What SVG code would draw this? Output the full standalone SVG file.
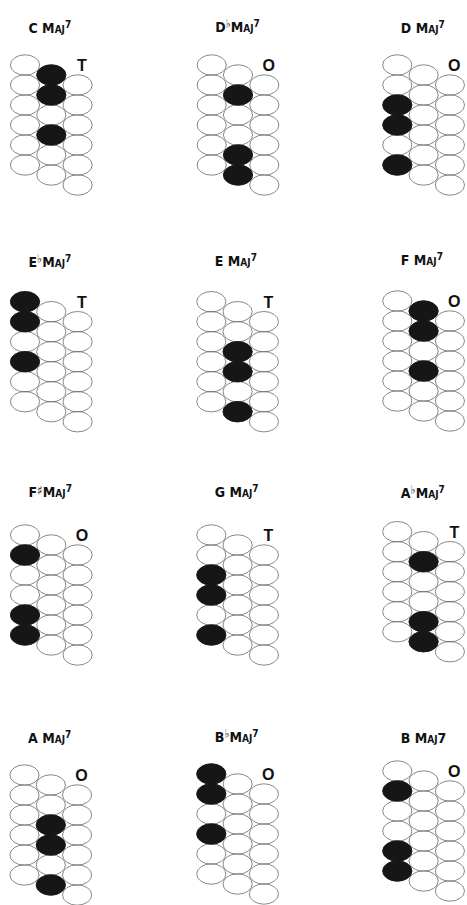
<svg xmlns="http://www.w3.org/2000/svg" xmlns:xlink="http://www.w3.org/1999/xlink" width="467" height="905" viewBox="0 0 467 905">
<style>
.e{fill:none;stroke:#6a6a6a;stroke-width:0.8}
.on{fill:#161616;stroke:#161616;stroke-width:0.8}
.ttl{font-family:"DejaVu Sans Condensed","DejaVu Sans",sans-serif;font-weight:bold;font-size:14px;font-variant:small-caps;fill:#111}
.sup{font-size:10px}
.acc{font-size:12px}
.lbl{font-family:"Liberation Sans",Arial,sans-serif;font-weight:bold;font-size:16px;fill:#111;text-anchor:middle}
</style>
<defs>
<g id="grid">
<ellipse class="e" cx="0" cy="0" rx="14.6" ry="10.2"/>
<ellipse class="e" cx="0" cy="20" rx="14.6" ry="10.2"/>
<ellipse class="e" cx="0" cy="40" rx="14.6" ry="10.2"/>
<ellipse class="e" cx="0" cy="60" rx="14.6" ry="10.2"/>
<ellipse class="e" cx="0" cy="80" rx="14.6" ry="10.2"/>
<ellipse class="e" cx="0" cy="100" rx="14.6" ry="10.2"/>
<ellipse class="e" cx="26.3" cy="10" rx="14.6" ry="10.2"/>
<ellipse class="e" cx="26.3" cy="30" rx="14.6" ry="10.2"/>
<ellipse class="e" cx="26.3" cy="50" rx="14.6" ry="10.2"/>
<ellipse class="e" cx="26.3" cy="70" rx="14.6" ry="10.2"/>
<ellipse class="e" cx="26.3" cy="90" rx="14.6" ry="10.2"/>
<ellipse class="e" cx="26.3" cy="110" rx="14.6" ry="10.2"/>
<ellipse class="e" cx="52.6" cy="20" rx="14.6" ry="10.2"/>
<ellipse class="e" cx="52.6" cy="40" rx="14.6" ry="10.2"/>
<ellipse class="e" cx="52.6" cy="60" rx="14.6" ry="10.2"/>
<ellipse class="e" cx="52.6" cy="80" rx="14.6" ry="10.2"/>
<ellipse class="e" cx="52.6" cy="100" rx="14.6" ry="10.2"/>
<ellipse class="e" cx="52.6" cy="120" rx="14.6" ry="10.2"/>
</g>
<ellipse id="dot" class="on" cx="0" cy="0" rx="14.6" ry="10.2"/>
</defs>
<rect width="467" height="905" fill="#fff"/>

<g id="cmaj7" transform="translate(25,65)">
<text class="ttl" x="3.5" y="-31.7">C Maj<tspan class="sup" dy="-5">7</tspan></text>
<use xlink:href="#grid"/>
<use xlink:href="#dot" x="26.3" y="10"/><use xlink:href="#dot" x="26.3" y="30"/><use xlink:href="#dot" x="26.3" y="70"/>
<text class="lbl" x="57" y="6">T</text>
</g>

<g id="dbmaj7" transform="translate(211.7,65)">
<text class="ttl" x="3.5" y="-33.3">D<tspan class="acc" dy="-4">♭</tspan><tspan dy="4">Maj</tspan><tspan class="sup" dy="-5">7</tspan></text>
<use xlink:href="#grid"/>
<use xlink:href="#dot" x="26.3" y="30"/><use xlink:href="#dot" x="26.3" y="90"/><use xlink:href="#dot" x="26.3" y="110"/>
<text class="lbl" x="57" y="6">O</text>
</g>

<g id="dmaj7" transform="translate(397.3,65)">
<text class="ttl" x="3.5" y="-31.7">D Maj<tspan class="sup" dy="-5">7</tspan></text>
<use xlink:href="#grid"/>
<use xlink:href="#dot" x="0" y="40"/><use xlink:href="#dot" x="0" y="60"/><use xlink:href="#dot" x="0" y="100"/>
<text class="lbl" x="57" y="6">O</text>
</g>

<g id="ebmaj7" transform="translate(25,301.7)">
<text class="ttl" x="3.5" y="-35">E<tspan class="acc" dy="-4">♭</tspan><tspan dy="4">Maj</tspan><tspan class="sup" dy="-5">7</tspan></text>
<use xlink:href="#grid"/>
<use xlink:href="#dot" x="0" y="0"/><use xlink:href="#dot" x="0" y="20"/><use xlink:href="#dot" x="0" y="60"/>
<text class="lbl" x="57" y="6">T</text>
</g>

<g id="emaj7" transform="translate(211.3,301.7)">
<text class="ttl" x="3.5" y="-35.7">E Maj<tspan class="sup" dy="-5">7</tspan></text>
<use xlink:href="#grid"/>
<use xlink:href="#dot" x="26.3" y="50"/><use xlink:href="#dot" x="26.3" y="70"/><use xlink:href="#dot" x="26.3" y="110"/>
<text class="lbl" x="57" y="6">T</text>
</g>

<g id="fmaj7" transform="translate(397.3,301)">
<text class="ttl" x="3.5" y="-36">F Maj<tspan class="sup" dy="-5">7</tspan></text>
<use xlink:href="#grid"/>
<use xlink:href="#dot" x="26.3" y="10"/><use xlink:href="#dot" x="26.3" y="30"/><use xlink:href="#dot" x="26.3" y="70"/>
<text class="lbl" x="57" y="6">O</text>
</g>

<g id="fsharpmaj7" transform="translate(25,535)">
<text class="ttl" x="3.5" y="-37.7">F<tspan font-size="13px" dy="-2">♯</tspan><tspan dy="2">Maj</tspan><tspan class="sup" dy="-5">7</tspan></text>
<use xlink:href="#grid"/>
<use xlink:href="#dot" x="0" y="20"/><use xlink:href="#dot" x="0" y="80"/><use xlink:href="#dot" x="0" y="100"/>
<text class="lbl" x="57" y="6">O</text>
</g>

<g id="gmaj7" transform="translate(211.3,535)">
<text class="ttl" x="3.5" y="-37.7">G Maj<tspan class="sup" dy="-5">7</tspan></text>
<use xlink:href="#grid"/>
<use xlink:href="#dot" x="0" y="40"/><use xlink:href="#dot" x="0" y="60"/><use xlink:href="#dot" x="0" y="100"/>
<text class="lbl" x="57" y="6">T</text>
</g>

<g id="abmaj7" transform="translate(397.3,531.7)">
<text class="ttl" x="3.5" y="-33.7">A<tspan class="acc" dy="-4">♭</tspan><tspan dy="4">Maj</tspan><tspan class="sup" dy="-5">7</tspan></text>
<use xlink:href="#grid"/>
<use xlink:href="#dot" x="26.3" y="30"/><use xlink:href="#dot" x="26.3" y="90"/><use xlink:href="#dot" x="26.3" y="110"/>
<text class="lbl" x="57" y="6">T</text>
</g>

<g id="amaj7" transform="translate(24.5,775)">
<text class="ttl" x="3.5" y="-32.3">A Maj<tspan class="sup" dy="-5">7</tspan></text>
<use xlink:href="#grid"/>
<use xlink:href="#dot" x="26.3" y="50"/><use xlink:href="#dot" x="26.3" y="70"/><use xlink:href="#dot" x="26.3" y="110"/>
<text class="lbl" x="57" y="6">O</text>
</g>

<g id="bbmaj7" transform="translate(211.3,774)">
<text class="ttl" x="3.5" y="-32.3">B<tspan class="acc" dy="-4">♭</tspan><tspan dy="4">Maj</tspan><tspan class="sup" dy="-5">7</tspan></text>
<use xlink:href="#grid"/>
<use xlink:href="#dot" x="0" y="0"/><use xlink:href="#dot" x="0" y="20"/><use xlink:href="#dot" x="0" y="60"/>
<text class="lbl" x="57" y="6">O</text>
</g>

<g id="bmaj7" transform="translate(397.3,771)">
<text class="ttl" x="3.5" y="-28.3">B  Maj7</text>
<use xlink:href="#grid"/>
<use xlink:href="#dot" x="0" y="20"/><use xlink:href="#dot" x="0" y="80"/><use xlink:href="#dot" x="0" y="100"/>
<text class="lbl" x="57" y="6">O</text>
</g>
</svg>
